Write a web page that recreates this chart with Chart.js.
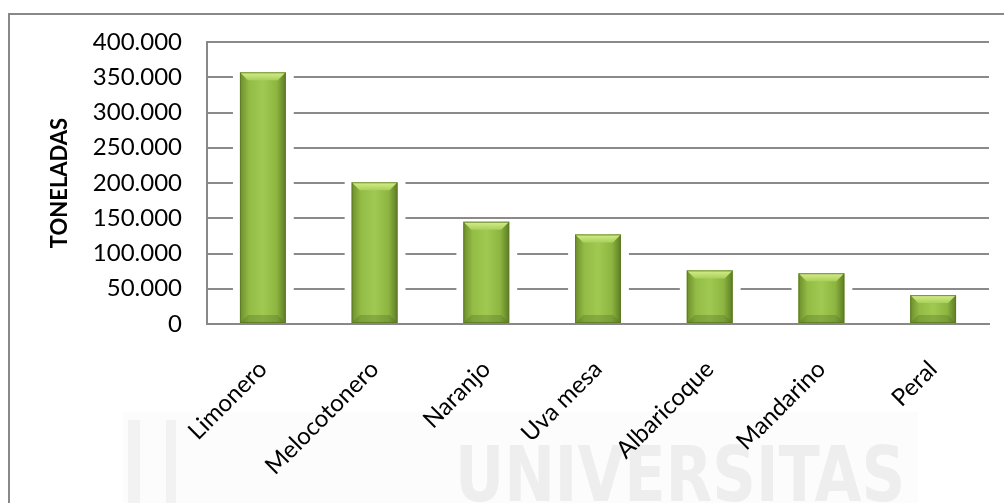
<!DOCTYPE html>
<html>
<head>
<meta charset="utf-8">
<script src="https://cdn.jsdelivr.net/npm/chart.js@4"></script>
<style>
  html, body { margin: 0; padding: 0; background: #fff; }
  #wrap { width: 1004px; height: 503px; }
</style>
</head>
<body>
<div id="wrap"><canvas id="bar-chart" width="1004" height="503"></canvas></div>
<script>
// cultivos y toneladas
var cultivos = ['Limonero', 'Melocotonero', 'Naranjo', 'Uva mesa', 'Albaricoque', 'Mandarino', 'Peral'];
var toneladas = [357000, 201000, 145000, 127000, 76000, 72000, 41000];
var ejeY = [0, 50000, 100000, 150000, 200000, 250000, 300000, 350000, 400000];

function fmtMiles(v) {
  if (v === 0) return '0';
  return String(v).replace(/\B(?=(\d{3})+(?!\d))/g, '.');
}

// marco + marca de agua + barras con relieve
var fondo = {
  id: 'fondo',
  beforeDraw: function (chart) {
    var c = chart.ctx;
    c.save();
    c.fillStyle = '#fcfcfc';
    c.fillRect(123, 412, 795, 91);
    c.fillStyle = '#f2f2f2';
    c.fillRect(128, 420, 12, 83);
    c.fillRect(166, 420, 10, 83);
    c.fillStyle = '#eeeeee';
    c.font = 'bold 76px "Liberation Sans Narrow", "DejaVu Sans Condensed", sans-serif';
    c.textBaseline = 'top';
    var w = c.measureText('UNIVERSITAS').width;
    c.translate(455, 443);
    c.scale(450 / w, 1);
    c.fillText('UNIVERSITAS', 0, 0);
    c.restore();

    c.save();
    c.strokeStyle = '#888888';
    c.lineWidth = 2;
    c.strokeRect(9, 14, 1000, 500);
    c.restore();
  },
  beforeDatasetsDraw: function (chart) {
    // hueco blanco alrededor de las barras (sombra)
    var c = chart.ctx;
    c.save();
    c.fillStyle = '#ffffff';
    chart.getDatasetMeta(0).data.forEach(function (b) {
      var w = b.width;
      c.fillRect(b.x - w / 2 - 7, b.y - 2, w + 15, b.base - b.y);
    });
    c.restore();
  },
  afterDatasetsDraw: function (chart) {
    var c = chart.ctx;
    c.save();
    chart.getDatasetMeta(0).data.forEach(function (b) {
      var l = b.x - b.width / 2, r = b.x + b.width / 2, t = b.y, bo = b.base;
      var g = c.createLinearGradient(l, 0, r, 0);
      g.addColorStop(0, '#6e8d2b');
      g.addColorStop(0.2, '#92bc45');
      g.addColorStop(0.5, '#a0c952');
      g.addColorStop(0.8, '#8db641');
      g.addColorStop(1, '#5e7c23');
      c.fillStyle = g;
      c.fillRect(l, t, r - l, bo - t);
      var d = 8;
      // bisel superior
      var gt = c.createLinearGradient(0, t, 0, t + d);
      gt.addColorStop(0, '#d6ee8c');
      gt.addColorStop(1, '#a8d05a');
      c.fillStyle = gt;
      c.beginPath();
      c.moveTo(l, t); c.lineTo(r, t); c.lineTo(r - d, t + d); c.lineTo(l + d, t + d); c.closePath();
      c.fill();
      // bisel inferior
      c.fillStyle = 'rgba(85,115,35,0.35)';
      c.beginPath();
      c.moveTo(l, bo); c.lineTo(r, bo); c.lineTo(r - d, bo - d); c.lineTo(l + d, bo - d); c.closePath();
      c.fill();
      c.strokeStyle = 'rgba(90,120,35,0.8)';
      c.lineWidth = 1;
      c.strokeRect(l + 0.5, t + 0.5, r - l - 1, bo - t - 1);
    });
    c.restore();
  }
};

new Chart(document.getElementById('bar-chart'), {
  type: 'bar',
  data: {
    labels: cultivos,
    datasets: [{
      label: 'Toneladas',
      data: toneladas,
      barPercentage: 0.41,
      categoryPercentage: 1,
      backgroundColor: '#98c34a'
    }]
  },
  plugins: [fondo],
  options: {
    responsive: false,
    animation: false,
    layout: { padding: { top: 42, right: 15, left: 0, bottom: 0 } },
    plugins: {
      legend: { display: false },
      tooltip: { enabled: false }
    },
    scales: {
      x: {
        grid: { display: false, drawTicks: false },
        border: { color: '#888888', width: 2 },
        ticks: {
          color: '#000',
          font: { family: 'Lato', size: 24 },
          maxRotation: 45,
          minRotation: 45,
          padding: 31
        },
        afterFit: function (s) { s.height = 179; }
      },
      y: {
        min: 0,
        max: 400000,
        afterBuildTicks: function (s) { s.ticks = ejeY.map(function (v) { return { value: v }; }); },
        grid: { color: '#8a8a8a', lineWidth: 2, drawTicks: false },
        border: { color: '#888888', width: 2 },
        ticks: {
          color: '#000',
          font: { family: 'Lato', size: 24 },
          padding: 25,
          callback: function (v) { return fmtMiles(v); }
        },
        title: {
          display: true,
          text: 'TONELADAS',
          color: '#000',
          font: { family: 'Lato', size: 22, weight: 'bold' },
          padding: { top: 47, bottom: 0 }
        },
        afterFit: function (s) { s.width = 207; }
      }
    }
  }
});
</script>
</body>
</html>
